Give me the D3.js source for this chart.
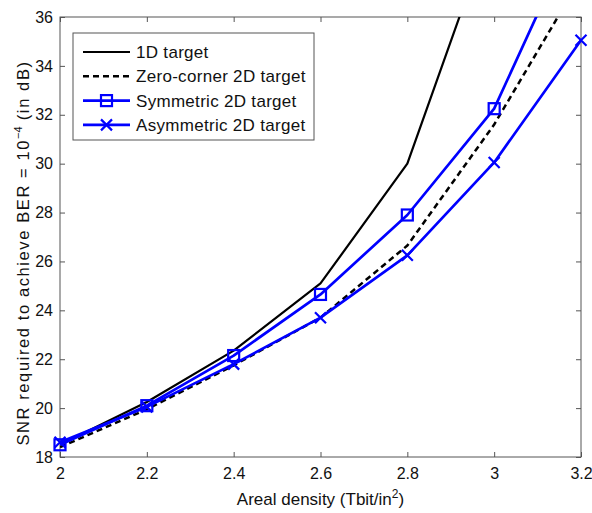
<!DOCTYPE html>
<html>
<head>
<meta charset="utf-8">
<script src="https://cdn.jsdelivr.net/npm/d3@7"></script>
<style>
  body { margin: 0; background: #fff; }
  svg text { font-family: "Liberation Sans", Arial, sans-serif; fill: #111; }
</style>
</head>
<body>
<svg id="chart" width="592" height="513"></svg>
<script>
// data
const density = [2, 2.2, 2.4, 2.6, 2.8, 3.0, 3.2];
const oneD = [18.5, 20.25, 22.35, 25.1, 30.0, 40.0];
const zeroCorner = [18.4, 19.95, 21.75, 23.7, 26.65, 31.6, 37.6];
const symmetric = [18.5, 20.1, 22.15, 24.65, 27.9, 32.25, 40.0];
const asymmetric = [18.6, 20.05, 21.8, 23.7, 26.25, 30.05, 35.05];
const xTicks = [2, 2.2, 2.4, 2.6, 2.8, 3, 3.2];
const yTicks = [18, 20, 22, 24, 26, 28, 30, 32, 34, 36];

const series = [
  { name: "1D target", values: oneD, color: "#000", width: 2.2, dash: null, marker: null },
  { name: "Zero-corner 2D target", values: zeroCorner, color: "#000", width: 2.5, dash: "6,4", marker: null },
  { name: "Symmetric 2D target", values: symmetric, color: "#0000ff", width: 2.7, dash: null, marker: "square" },
  { name: "Asymmetric 2D target", values: asymmetric, color: "#0000ff", width: 2.7, dash: null, marker: "cross" }
];

const margin = { top: 17, right: 11, bottom: 56, left: 60 };
const svg = d3.select("#chart");
const width = 592 - margin.left - margin.right;
const height = 513 - margin.top - margin.bottom;

const x = d3.scaleLinear().domain([2, 3.2]).range([0, width]);
const y = d3.scaleLinear().domain([18, 36]).range([height, 0]);

const g = svg.append("g").attr("transform", `translate(${margin.left},${margin.top})`);

svg.append("defs").append("clipPath").attr("id", "clip")
  .append("rect").attr("width", width).attr("height", height);

// axes, ticks pointing inward like matlab
const axisColor = "#555";
function styleAxis(sel) {
  sel.select(".domain").remove();
  sel.selectAll("line").attr("stroke", axisColor);
  sel.selectAll("text").style("font-size", "16px");
}
g.append("g").attr("transform", `translate(0,${height})`)
  .call(d3.axisBottom(x).tickValues(xTicks).tickSize(-5).tickPadding(11).tickFormat(d3.format("")))
  .call(styleAxis);
g.append("g")
  .call(d3.axisTop(x).tickValues(xTicks).tickSize(-5).tickFormat(""))
  .call(styleAxis);
g.append("g")
  .call(d3.axisLeft(y).tickValues(yTicks).tickSize(-5).tickPadding(7))
  .call(styleAxis);
g.append("g").attr("transform", `translate(${width},0)`)
  .call(d3.axisRight(y).tickValues(yTicks).tickSize(-5).tickFormat(""))
  .call(styleAxis);

g.append("rect").attr("width", width).attr("height", height)
  .attr("fill", "none").attr("stroke", axisColor).attr("stroke-width", 1);

// lines
const line = d3.line().x((d, i) => x(density[i])).y(d => y(d));
const plot = g.append("g").attr("clip-path", "url(#clip)");
series.forEach(s => {
  plot.append("path")
    .attr("d", line(s.values))
    .attr("fill", "none")
    .attr("stroke", s.color)
    .attr("stroke-width", s.width)
    .attr("stroke-dasharray", s.dash)
    .attr("stroke-linejoin", "round");
});

function drawMarker(sel, type, cx, cy, color) {
  if (type === "square") {
    sel.append("rect").attr("x", cx - 5.5).attr("y", cy - 5.5).attr("width", 11).attr("height", 11)
      .attr("fill", "none").attr("stroke", color).attr("stroke-width", 2.2);
  } else if (type === "cross") {
    sel.append("path").attr("d", `M${cx - 5.5},${cy - 5.5}L${cx + 5.5},${cy + 5.5}M${cx - 5.5},${cy + 5.5}L${cx + 5.5},${cy - 5.5}`)
      .attr("stroke", color).attr("stroke-width", 2.2);
  }
}

series.filter(s => s.marker).forEach(s => {
  const mg = g.append("g");
  s.values.forEach((v, i) => {
    if (v <= 36) drawMarker(mg, s.marker, x(density[i]), y(v), s.color);
  });
});

// legend
const lg = g.append("g").attr("transform", "translate(13,16)");
lg.append("rect").attr("width", 241).attr("height", 107)
  .attr("fill", "#fff").attr("stroke", axisColor).attr("stroke-width", 1);
series.forEach((s, i) => {
  const ly = 19 + i * 24.3;
  lg.append("line").attr("x1", 10).attr("x2", 57).attr("y1", ly).attr("y2", ly)
    .attr("stroke", s.color).attr("stroke-width", s.width).attr("stroke-dasharray", s.dash);
  if (s.marker) drawMarker(lg, s.marker, 33.5, ly, s.color);
  lg.append("text").attr("x", 63).attr("y", ly).attr("dy", "0.35em")
    .style("font-size", "17px").style("letter-spacing", "0.3px").text(s.name);
});

// axis titles
const xl = svg.append("text").attr("x", margin.left + width / 2).attr("y", 505)
  .attr("text-anchor", "middle").style("font-size", "17px");
xl.append("tspan").text("Areal density (Tbit/in");
xl.append("tspan").attr("dy", -7).style("font-size", "12px").text("2");
xl.append("tspan").attr("dy", 7).text(")");

const yl = svg.append("text")
  .attr("transform", "translate(29,253) rotate(-90)")
  .attr("text-anchor", "middle").style("font-size", "16.5px").style("letter-spacing", "1.6px");
yl.append("tspan").text("SNR required to achieve BER = 10");
yl.append("tspan").attr("dy", -7).style("font-size", "11px").style("letter-spacing", "0px").text("\u22124");
yl.append("tspan").attr("dy", 7).text(" (in dB)");
</script>
</body>
</html>
